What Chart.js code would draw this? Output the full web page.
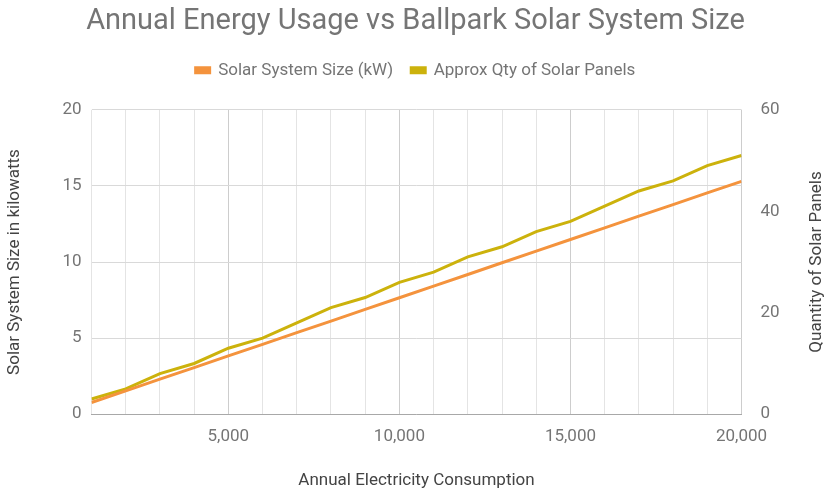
<!DOCTYPE html>
<html>
<head>
<meta charset="utf-8">
<script src="https://cdn.jsdelivr.net/npm/chart.js@4/dist/chart.umd.min.js"></script>
<style>
  html, body { margin: 0; padding: 0; background: #fff; }
  #wrap { width: 827px; height: 494px; }
</style>
</head>
<body>
<div id="wrap"><canvas id="chart" width="827" height="494"></canvas></div>
<script>
// annual consumption (kWh), one point per 1000
let consumption = [1000, 2000, 3000, 4000, 5000, 6000, 7000, 8000, 9000, 10000,
  11000, 12000, 13000, 14000, 15000, 16000, 17000, 18000, 19000, 20000];
let systemSize = [0.77, 1.53, 2.30, 3.06, 3.83, 4.59, 5.36, 6.12, 6.89, 7.65,
  8.42, 9.18, 9.95, 10.71, 11.48, 12.24, 13.01, 13.77, 14.54, 15.30];
let panelQty = [3, 5, 8, 10, 13, 15, 18, 21, 23, 26,
  28, 31, 33, 36, 38, 41, 44, 46, 49, 51];
let xTickLabels = ["5,000", "10,000", "15,000", "20,000"];
let rightTitle = "Quantity of Solar Panels";

let colors = ["#F4933D", "#CCB20C"];
let textColor = "#757575";
let titleColor = "#444444";
let font = "Roboto";

let sizeData = consumption.map((c, i) => ({ x: c, y: systemSize[i] }));
let panelData = consumption.map((c, i) => ({ x: c, y: panelQty[i] }));

// right axis title reads bottom-to-top in the original, Chart.js rotates it the other way
const rightTitlePlugin = {
  id: "rightTitle",
  afterDraw(chart) {
    const s = chart.scales.y1;
    const c = chart.ctx;
    c.save();
    c.translate(s.right - 10.2, (s.top + s.bottom) / 2);
    c.rotate(-Math.PI / 2);
    c.fillStyle = titleColor;
    c.font = "17px " + font;
    c.textAlign = "center";
    c.textBaseline = "middle";
    c.fillText(rightTitle, 0, 0);
    c.restore();
  },
};

let ctx = document.getElementById("chart").getContext("2d");
let myChart = new Chart(ctx, {
  type: "line",
  plugins: [rightTitlePlugin],
  data: {
    datasets: [
      {
        label: "Solar System Size (kW)",
        backgroundColor: colors[0],
        borderColor: colors[0],
        borderWidth: 3,
        pointRadius: 0,
        yAxisID: "y",
        data: sizeData,
      },
      {
        label: "Approx Qty of Solar Panels",
        backgroundColor: colors[1],
        borderColor: colors[1],
        borderWidth: 3,
        pointRadius: 0,
        yAxisID: "y1",
        data: panelData,
      },
    ],
  },
  options: {
    responsive: false,
    animation: false,
    layout: { padding: { left: 4, right: 0, top: 0, bottom: 3 } },
    plugins: {
      title: {
        display: true,
        text: "Annual Energy Usage vs Ballpark Solar System Size",
        color: textColor,
        font: { family: font, size: 29, weight: "normal" },
        padding: { top: 4, bottom: 5 },
      },
      legend: {
        labels: {
          color: textColor,
          font: { family: font, size: 17 },
          boxWidth: 14,
          boxHeight: 5,
          padding: 18,
        },
      },
      tooltip: { enabled: false },
    },
    scales: {
      x: {
        type: "linear",
        min: 1000,
        max: 20000,
        ticks: {
          stepSize: 1000,
          autoSkip: false,
          maxRotation: 0,
          padding: 12,
          color: textColor,
          font: { family: font, size: 17 },
          callback: (v) => (v % 5000 === 0 ? xTickLabels[v / 5000 - 1] : ""),
        },
        grid: {
          color: (c) => (c.tick && c.tick.value % 5000 === 0 ? "#cdcdcd" : "#e4e4e4"),
          drawTicks: false,
        },
        border: { color: "#a8a8a8" },
        title: {
          display: true,
          text: "Annual Electricity Consumption",
          color: titleColor,
          font: { family: font, size: 17 },
          padding: { top: 12, bottom: 0 },
        },
      },
      // spacer between legend and plot
      xTop: {
        type: "linear",
        position: "top",
        min: 1000,
        max: 20000,
        ticks: { display: false },
        grid: { display: false },
        border: { display: false },
        title: { display: true, text: " ", font: { size: 10 }, padding: { top: 0, bottom: 1 } },
      },
      y: {
        position: "left",
        min: 0,
        max: 20,
        ticks: { stepSize: 5, color: textColor, font: { family: font, size: 17 }, padding: 10 },
        grid: { color: "#d9d9d9", drawTicks: false },
        border: { display: false },
        title: {
          display: true,
          text: "Solar System Size in kilowatts",
          color: titleColor,
          font: { family: font, size: 17 },
          padding: { top: 1, bottom: 27 },
        },
      },
      y1: {
        position: "right",
        min: 0,
        max: 60,
        ticks: { stepSize: 20, color: textColor, font: { family: font, size: 17 }, padding: 11 },
        grid: { display: false },
        border: { display: false },
        title: {
          display: true,
          text: rightTitle,
          color: "rgba(0,0,0,0)",
          font: { family: font, size: 17 },
          padding: { top: 0, bottom: 16 },
        },
      },
    },
  },
});
</script>
</body>
</html>
